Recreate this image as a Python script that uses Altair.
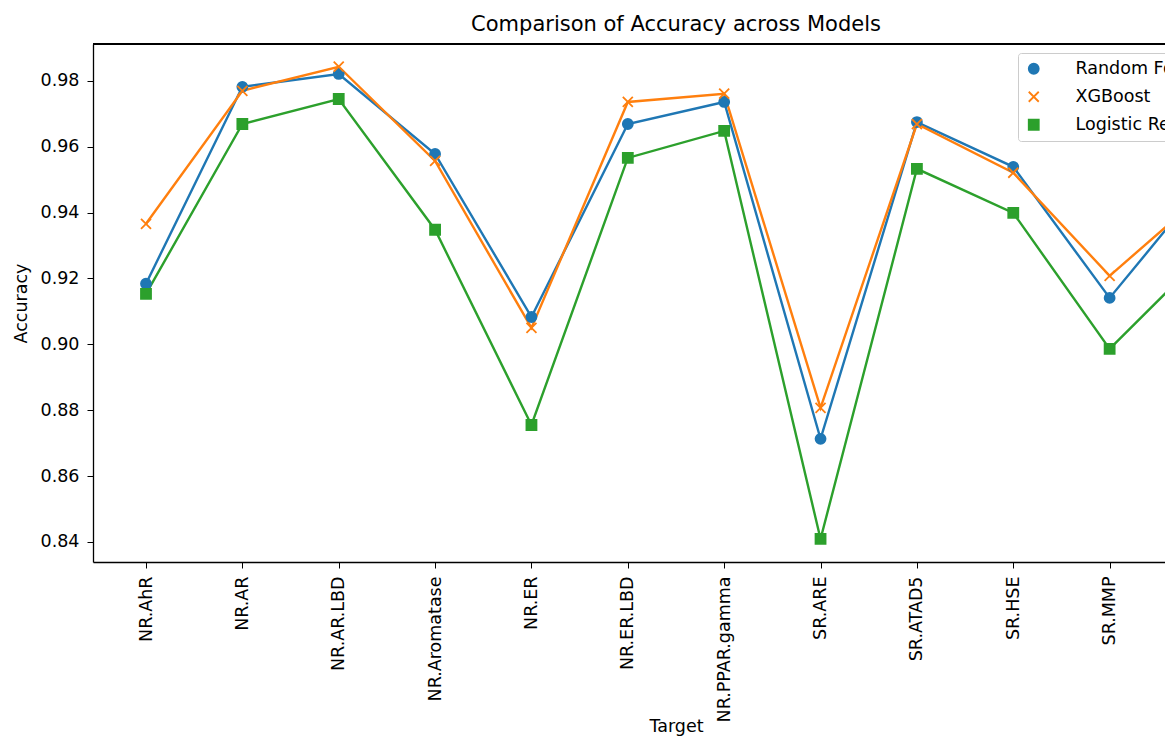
import altair as alt
import pandas as pd

targets = ["NR.AhR", "NR.AR", "NR.AR.LBD", "NR.Aromatase", "NR.ER", "NR.ER.LBD",
           "NR.PPAR.gamma", "SR.ARE", "SR.ATAD5", "SR.HSE", "SR.MMP", "SR.p53"]
models = ["Random Forest", "XGBoost", "Logistic Regression"]
rf_acc = [0.9184, 0.9782, 0.9821, 0.9578, 0.9083, 0.9669, 0.9736, 0.8713, 0.9675, 0.9539, 0.9141, 0.9496]
xgb_acc = [0.9366, 0.9770, 0.9843, 0.9557, 0.9050, 0.9736, 0.9761, 0.8807, 0.9669, 0.9521, 0.9208, 0.9463]
lr_acc = [0.9153, 0.9669, 0.9745, 0.9348, 0.8755, 0.9566, 0.9648, 0.8409, 0.9533, 0.9399, 0.8986, 0.9278]
y_ticks = [0.84, 0.86, 0.88, 0.90, 0.92, 0.94, 0.96, 0.98]
colors = ["#1f77b4", "#ff7f0e", "#2ca02c"]
fills = ["#1f77b4", "transparent", "#2ca02c"]
shapes = ["circle", "M-1,-1L1,1M-1,1L1,-1", "square"]

rows = []
for m, vals in zip(models, [rf_acc, xgb_acc, lr_acc]):
    for t, v in zip(targets, vals):
        rows.append({"Target": t, "Accuracy": v, "Model": m})
df = pd.DataFrame(rows)

FULL_W = 1166   # full plot width (right part runs off the page, as in the reference)
VIS_W = 1072    # visible part of the plot
PLOT_H = 518
FS = 17.5

x_enc = alt.X("Target:N", sort=targets, title="Target",
              scale=alt.Scale(type="point", padding=0.55, range=[0, FULL_W]),
              axis=alt.Axis(labelAngle=-90, titleY=155, titleBaseline="top"))
y_enc = alt.Y("Accuracy:Q", title="Accuracy",
              scale=alt.Scale(domain=[0.8339, 0.9912], nice=False, zero=False),
              axis=alt.Axis(values=y_ticks, format=".2f", titlePadding=10))
legend = alt.Legend(title=None, orient="none", legendX=925, legendY=9,
                    fillColor="white", strokeColor="#cccccc", cornerRadius=3,
                    padding=7, labelFontSize=FS, rowPadding=9, symbolSize=100,
                    symbolStrokeWidth=1.8, labelFont="DejaVu Sans", labelColor="black",
                    labelOffset=33)
color_enc = alt.Color("Model:N", scale=alt.Scale(domain=models, range=colors), legend=legend)

lines = alt.Chart(df).mark_line(strokeWidth=2.4).encode(
    x=x_enc, y=y_enc, color=color_enc, detail="Model:N"
)
points = alt.Chart(df).mark_point(filled=False, size=100, strokeWidth=1.8, opacity=1).encode(
    x=x_enc, y=y_enc, color=color_enc,
    fill=alt.Fill("Model:N", scale=alt.Scale(domain=models, range=fills), legend=legend),
    shape=alt.Shape("Model:N", scale=alt.Scale(domain=models, range=shapes), legend=legend),
)
top_spine = alt.Chart(df).mark_rule(color="black", strokeWidth=1.3).encode(
    x=alt.value(0), x2=alt.value(FULL_W), y=alt.value(0)
)

chart = alt.layer(lines, points, top_spine).properties(
    width=VIS_W, height=PLOT_H,
    autosize=alt.AutoSizeParams(type="none"),
    padding={"left": 85, "top": 36, "right": 0, "bottom": 177},
    title=alt.TitleParams("Comparison of Accuracy across Models", fontSize=21,
                          fontWeight="normal", font="DejaVu Sans", color="black",
                          offset=8, anchor="middle", dx=47),
).configure_view(stroke=None).configure_axis(
    grid=False, domainColor="black", tickColor="black", labelColor="black",
    titleColor="black", labelFont="DejaVu Sans", titleFont="DejaVu Sans",
    labelFontSize=FS, titleFontSize=FS, titleFontWeight="normal",
    tickSize=6, labelPadding=8, domainWidth=1.3
)

chart.save("out.html", embed_options={"renderer": "svg", "actions": False})
